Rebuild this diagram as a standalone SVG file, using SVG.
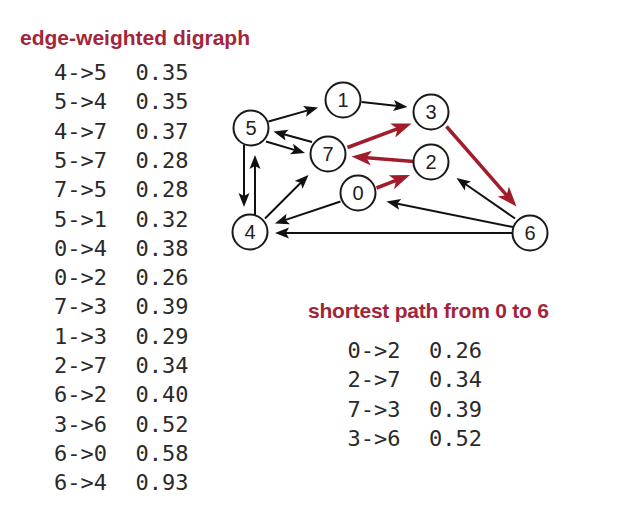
<svg xmlns="http://www.w3.org/2000/svg" width="643" height="510" viewBox="0 0 643 510">
<style>
.bg{fill:#ffffff}
.title{font-family:"Liberation Sans",Arial,sans-serif;font-weight:bold;font-size:21px;fill:#a3253a}
.mono{font-family:"DejaVu Sans Mono","Liberation Mono",monospace;font-size:22px;fill:#2a2a2a}
.node circle{fill:#ffffff;stroke:#1a1a1a;stroke-width:2}
.node text{font-family:"Liberation Sans",Arial,sans-serif;font-size:20px;fill:#222;text-anchor:middle}
.e{stroke:#111;stroke-width:2;fill:none;marker-end:url(#ab)}
.r{stroke:#a21d2b;stroke-width:3.5;fill:none;marker-end:url(#ar)}
</style>
<defs>
<marker id="ab" markerUnits="userSpaceOnUse" markerWidth="15" markerHeight="12" refX="9" refY="6" orient="auto">
<path d="M0,0.5 L14,6 L0,11.5 L3,6 Z" fill="#111"/>
</marker>
<marker id="ar" markerUnits="userSpaceOnUse" markerWidth="21" markerHeight="16" refX="14" refY="8" orient="auto">
<path d="M0,0.5 L20,8 L0,15.5 L5,8 Z" fill="#a21d2b"/>
</marker>
</defs>
<rect class="bg" x="0" y="0" width="643" height="510"/>

<g id="table-left">
<text class="title" x="20" y="45" textLength="230">edge-weighted digraph</text>
<g class="mono">
<text x="54" y="80">4-&gt;5</text><text x="135.5" y="80">0.35</text>
<text x="54" y="109.3">5-&gt;4</text><text x="135.5" y="109.3">0.35</text>
<text x="54" y="138.6">4-&gt;7</text><text x="135.5" y="138.6">0.37</text>
<text x="54" y="167.9">5-&gt;7</text><text x="135.5" y="167.9">0.28</text>
<text x="54" y="197.2">7-&gt;5</text><text x="135.5" y="197.2">0.28</text>
<text x="54" y="226.5">5-&gt;1</text><text x="135.5" y="226.5">0.32</text>
<text x="54" y="255.8">0-&gt;4</text><text x="135.5" y="255.8">0.38</text>
<text x="54" y="285.1">0-&gt;2</text><text x="135.5" y="285.1">0.26</text>
<text x="54" y="314.4">7-&gt;3</text><text x="135.5" y="314.4">0.39</text>
<text x="54" y="343.7">1-&gt;3</text><text x="135.5" y="343.7">0.29</text>
<text x="54" y="373">2-&gt;7</text><text x="135.5" y="373">0.34</text>
<text x="54" y="402.3">6-&gt;2</text><text x="135.5" y="402.3">0.40</text>
<text x="54" y="431.6">3-&gt;6</text><text x="135.5" y="431.6">0.52</text>
<text x="54" y="460.9">6-&gt;0</text><text x="135.5" y="460.9">0.58</text>
<text x="54" y="490.2">6-&gt;4</text><text x="135.5" y="490.2">0.93</text>
</g>
</g>

<g id="table-right">
<text class="title" x="308" y="318" textLength="241">shortest path from 0 to 6</text>
<g class="mono">
<text x="347.5" y="357.5">0-&gt;2</text><text x="429" y="357.5">0.26</text>
<text x="347.5" y="387">2-&gt;7</text><text x="429" y="387">0.34</text>
<text x="347.5" y="416.5">7-&gt;3</text><text x="429" y="416.5">0.39</text>
<text x="347.5" y="446">3-&gt;6</text><text x="429" y="446">0.52</text>
</g>
</g>

<g id="connectors">
<line class="e" x1="268.5" y1="121.5" x2="313.2" y2="108.9"/>
<line class="e" x1="361.5" y1="102" x2="402.5" y2="106.5"/>
<line class="e" x1="312" y1="142" x2="278.3" y2="132.8"/>
<line class="e" x1="266" y1="141.5" x2="300.2" y2="151.6"/>
<line class="e" x1="244" y1="145" x2="244" y2="202"/>
<line class="e" x1="255" y1="215" x2="255" y2="160"/>
<line class="e" x1="265" y1="218.5" x2="305" y2="178.5"/>
<line class="e" x1="340.5" y1="201.5" x2="279.7" y2="221.9"/>
<line class="e" x1="515" y1="218.5" x2="460.6" y2="180.8"/>
<line class="e" x1="513" y1="227" x2="391.4" y2="202.5"/>
<line class="e" x1="512.5" y1="233" x2="280" y2="233"/>
<line class="r" x1="376.5" y1="188" x2="404.4" y2="177.2"/>
<line class="r" x1="414" y1="161.5" x2="357.5" y2="157"/>
<line class="r" x1="347.5" y1="147.5" x2="405.9" y2="125.6"/>
<line class="r" x1="446.5" y1="126.5" x2="512.5" y2="202"/>
</g>

<g id="node0" class="node"><circle cx="358" cy="193" r="17.5"/><text x="358" y="200">0</text></g>
<g id="node1" class="node"><circle cx="343" cy="100" r="17.5"/><text x="343" y="107">1</text></g>
<g id="node2" class="node"><circle cx="431" cy="162" r="17.5"/><text x="431" y="169">2</text></g>
<g id="node3" class="node"><circle cx="431" cy="112" r="17.5"/><text x="431" y="119">3</text></g>
<g id="node4" class="node"><circle cx="250" cy="232" r="17.5"/><text x="250" y="239">4</text></g>
<g id="node5" class="node"><circle cx="251" cy="128" r="17.5"/><text x="251" y="135">5</text></g>
<g id="node6" class="node"><circle cx="530" cy="233" r="17.5"/><text x="530" y="240">6</text></g>
<g id="node7" class="node"><circle cx="328" cy="154" r="17.5"/><text x="328" y="161">7</text></g>
</svg>
